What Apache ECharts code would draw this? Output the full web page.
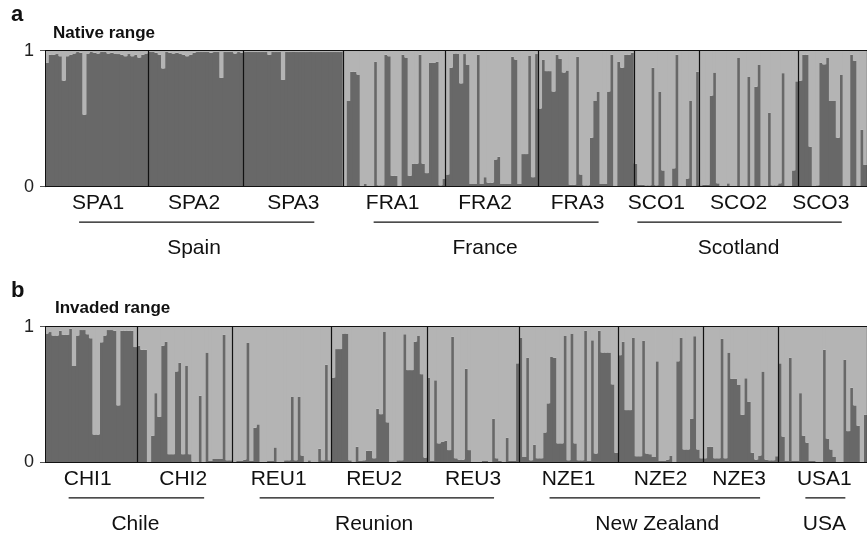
<!DOCTYPE html>
<html>
<head>
<meta charset="utf-8">
<script src="https://cdn.jsdelivr.net/npm/echarts/dist/echarts.min.js"></script>
<style>html,body{margin:0;padding:0;background:#fff}#c{width:867px;height:537px}</style>
</head>
<body>
<div id="c"></div>
<script>
// ---------------- data ----------------
const POPS_A = ['SPA1','SPA2','SPA3','FRA1','FRA2','FRA3','SCO1','SCO2','SCO3'];
const COUNTRIES_A = ['Spain','Spain','Spain','France','France','France','Scotland','Scotland','Scotland'];
const POPS_B = ['CHI1','CHI2','REU1','REU2','REU3','NZE1','NZE2','NZE3','USA1'];
const COUNTRIES_B = ['Chile','Chile','Reunion','Reunion','Reunion','New Zealand','New Zealand','New Zealand','USA'];

// membership in the dark cluster (light = 1 - dark)
const SPA1 = [0.91,0.97,0.97,0.975,0.96,0.78,0.96,0.97,0.98,0.99,0.985,0.53,0.98,0.99,0.985,0.98,0.99,0.99,0.98,0.985,0.98,0.975,0.97,0.96,0.975,0.96,0.97,0.95,0.97,0.98];
const SPA2 = [0.99,0.99,0.985,0.97,0.87,0.99,0.985,0.98,0.985,0.98,0.97,0.96,0.97,0.985,0.99,0.99,0.99,0.99,0.985,0.99,0.99,0.80,0.99,0.99,0.99,0.98,0.99,0.985];
const SPA3 = [0.99,0.995,0.99,0.99,0.99,0.99,0.99,0.97,0.99,0.99,0.99,0.785,0.99,0.99,0.995,0.99,0.99,0.99,0.99,0.995,0.99,0.99,0.99,0.99,0.99,0.99,0.99,0.99,0.99];
const FRA1 = [0.0,0.63,0.845,0.845,0.825,0.0,0.02,0.0,0.0,0.92,0.01,0.01,0.97,0.96,0.08,0.08,0.0,0.97,0.95,0.08,0.17,0.17,0.97,0.17,0.1,0.91,0.91,0.92,0.01,0.06];
const FRA2 = [0.09,0.875,0.98,0.98,0.76,0.975,0.895,0.02,0.02,0.97,0.02,0.07,0.03,0.03,0.2,0.22,0.02,0.02,0.02,0.955,0.935,0.02,0.24,0.24,0.965,0.07,0.975];
const FRA3 = [0.575,0.935,0.85,0.85,0.70,0.97,0.94,0.84,0.855,0.015,0.015,0.955,0.09,0.01,0.01,0.36,0.63,0.70,0.02,0.02,0.70,0.97,0.0,0.92,0.875,0.97,0.97,0.985];
const SCO1 = [0.17,0.015,0.015,0.01,0.01,0.875,0.01,0.70,0.12,0.0,0.0,0.135,0.97,0.0,0.0,0.06,0.63,0.0,0.845];
const SCO2 = [0.01,0.015,0.015,0.67,0.84,0.025,0.0,0.0,0.025,0.0,0.0,0.95,0.0,0.0,0.81,0.0,0.735,0.895,0.0,0.0,0.545,0.01,0.01,0.025,0.835,0.0,0.0,0.12,0.775];
const SCO3 = [0.78,0.97,0.97,0.295,0.0,0.01,0.91,0.90,0.95,0.63,0.63,0.36,0.825,0.0,0.0,0.97,0.925,0.0,0.42,0.16];

const CHI1 = [0.95,0.96,0.935,0.935,0.97,0.94,0.94,0.985,0.71,0.935,0.975,0.975,0.945,0.915,0.205,0.205,0.885,0.935,0.975,0.975,0.97,0.42,0.97,0.97,0.97,0.97,0.85];
const CHI2 = [0.86,0.83,0.83,0.0,0.195,0.51,0.335,0.86,0.89,0.06,0.06,0.67,0.735,0.06,0.71,0.06,0.005,0.0,0.49,0.0,0.81,0.01,0.025,0.025,0.025,0.94,0.015,0.015];
const REU1 = [0.0,0.01,0.01,0.02,0.88,0.01,0.255,0.28,0.0,0.0,0.01,0.01,0.11,0.0,0.0,0.015,0.015,0.485,0.015,0.485,0.05,0.0,0.015,0.0,0.0,0.10,0.015,0.72,0.015];
const REU2 = [0.625,0.835,0.835,0.95,0.95,0.015,0.0,0.115,0.01,0.015,0.085,0.085,0.03,0.395,0.355,0.965,0.295,0.0,0.0,0.015,0.015,0.945,0.68,0.68,0.89,0.935,0.65,0.035];
const REU3 = [0.625,0.01,0.605,0.14,0.15,0.16,0.09,0.925,0.03,0.02,0.02,0.69,0.09,0.0,0.0,0.0,0.01,0.01,0.0,0.32,0.03,0.01,0.0,0.18,0.01,0.01,0.73];
const NZE1 = [0.92,0.04,0.77,0.015,0.13,0.03,0.03,0.22,0.435,0.78,0.77,0.14,0.14,0.935,0.015,0.95,0.14,0.015,0.015,0.97,0.01,0.90,0.065,0.97,0.81,0.81,0.81,0.575,0.07];
const NZE2 = [0.79,0.89,0.385,0.385,0.92,0.045,0.045,0.895,0.065,0.06,0.04,0.745,0.01,0.01,0.02,0.05,0.0,0.745,0.92,0.095,0.095,0.32,0.93,0.095,0.03];
const NZE3 = [0.03,0.115,0.115,0.03,0.03,0.91,0.03,0.81,0.615,0.615,0.57,0.35,0.62,0.445,0.07,0.02,0.05,0.67,0.02,0.015,0.015,0.045];
const USA1 = [0.73,0.19,0.01,0.77,0.01,0.01,0.51,0.195,0.145,0.01,0.01,0.0,0.0,0.83,0.175,0.095,0.04,0.0,0.0,0.755,0.23,0.55,0.42,0.27,0.0,0.35];

const Y_TICKS = ['0','1'];

// ---------------- layout (not data) ----------------
const LABEL_SHIFT_A = [0,-1,0,-1,-2,-3,-3,-3,-4];
const LABEL_SHIFT_B = [-1,-1,-1,-2,0,0,0,-1,0];
const DARK = '#686868', LIGHT = '#b4b4b4', INK = '#111';
const FONT = 'Liberation Sans, Arial, sans-serif';

function buildPanel(pops, countries, values, shifts) {
  const cats = [], ctry = [], dark = [], light = [], starts = [], anchors = [];
  let idx = 0;
  pops.forEach((p, k) => {
    starts.push(idx);
    anchors.push(idx + Math.floor(values[k].length / 2) + shifts[k]);
    values[k].forEach((v, j) => {
      cats.push(p + '#' + j);
      ctry.push(countries[k] + '#' + idx);
      dark.push(v);
      light.push(+(1 - v).toFixed(4));
      idx++;
    });
  });
  const groups = [];
  countries.forEach((c, k) => {
    let g = groups.find(x => x.name === c);
    if (!g) { g = {name: c, pops: []}; groups.push(g); }
    g.pops.push(k);
  });
  groups.forEach(g => {
    g.anchor = Math.round(g.pops.reduce((s, k) => s + anchors[k], 0) / g.pops.length);
    g.first = anchors[g.pops[0]];
    g.last = anchors[g.pops[g.pops.length - 1]];
  });
  return {cats, ctry, dark, light, starts, anchors, groups};
}

const A = buildPanel(POPS_A, COUNTRIES_A, [SPA1,SPA2,SPA3,FRA1,FRA2,FRA3,SCO1,SCO2,SCO3], LABEL_SHIFT_A);
const B = buildPanel(POPS_B, COUNTRIES_B, [CHI1,CHI2,REU1,REU2,REU3,NZE1,NZE2,NZE3,USA1], LABEL_SHIFT_B);

function popAxis(P, gi) {
  const lines = new Set(P.starts.filter(s => s > 0));
  const labs = new Set(P.anchors);
  return {
    type: 'category', gridIndex: gi, position: 'bottom', data: P.cats, z: 5,
    boundaryGap: true,
    axisLine: {show: false}, axisTick: {show: false},
    axisLabel: {
      interval: (i) => labs.has(i), margin: 6, fontSize: 21, color: INK, fontFamily: FONT,
      formatter: v => v.split('#')[0]
    },
    splitLine: {show: true, interval: (i) => lines.has(i), lineStyle: {color: INK, width: 1.2}}
  };
}
function countryAxis(P, gi) {
  const labs = new Set(P.groups.map(g => g.anchor));
  return {
    type: 'category', gridIndex: gi, position: 'bottom', data: P.ctry, z: 5,
    axisLine: {show: false}, axisTick: {show: false}, splitLine: {show: false},
    axisLabel: {
      interval: (i) => labs.has(i), margin: 51, fontSize: 21, color: INK, fontFamily: FONT,
      formatter: v => v.split('#')[0]
    }
  };
}
function valAxis(gi) {
  return {
    type: 'value', gridIndex: gi, min: 0, max: 1, interval: 1, z: 5,
    axisLine: {show: true, lineStyle: {color: INK, width: 1}},
    axisTick: {show: true, length: 5, lineStyle: {color: '#555'}},
    axisLabel: {margin: 11, fontSize: 18, color: '#222', fontFamily: FONT,
      formatter: v => Y_TICKS[Math.round(v)]},
    splitLine: {show: true, lineStyle: {color: INK, width: 1}}
  };
}
function barSeries(P, ai, stack) {
  const common = {type: 'bar', stack: stack, xAxisIndex: ai * 2, yAxisIndex: ai,
    barWidth: '125%', animation: false, silent: true};
  return [
    Object.assign({}, common, {data: P.dark, itemStyle: {color: DARK}}),
    Object.assign({}, common, {data: P.light, itemStyle: {color: LIGHT}})
  ];
}

const chart = echarts.init(document.getElementById('c'), null, {renderer: 'canvas'});
const titleStyle = (size) => ({fontSize: size, fontWeight: 'bold', color: INK, fontFamily: FONT});
chart.setOption({
  backgroundColor: '#fff',
  animation: false,
  title: [
    {text: 'a', left: 11, top: 4, padding: 0, textStyle: titleStyle(22)},
    {text: 'Native range', left: 53, top: 25, padding: 0, textStyle: titleStyle(17)},
    {text: 'b', left: 11, top: 280, padding: 0, textStyle: titleStyle(22)},
    {text: 'Invaded range', left: 55, top: 300, padding: 0, textStyle: titleStyle(17)}
  ],
  grid: [
    {left: 45, right: 0, top: 50.7, height: 136},
    {left: 45, right: 0, top: 326.7, height: 135.6}
  ],
  xAxis: [popAxis(A, 0), countryAxis(A, 0), popAxis(B, 1), countryAxis(B, 1)],
  yAxis: [valAxis(0), valAxis(1)],
  series: [].concat(barSeries(A, 0, 'a'), barSeries(B, 1, 'b'))
});

// underlines for country groups, positioned through the axes
const elements = [];
[[A, 0], [B, 1]].forEach(([P, ai]) => {
  const y0 = chart.convertToPixel({yAxisIndex: ai}, 0) + 35.5;
  P.groups.forEach(g => {
    const x1 = chart.convertToPixel({xAxisIndex: ai * 2}, g.first) - 19;
    const x2 = chart.convertToPixel({xAxisIndex: ai * 2}, g.last) + 21;
    elements.push({type: 'line', shape: {x1: x1, y1: y0, x2: x2, y2: y0},
      style: {stroke: INK, lineWidth: 1.3}, silent: true});
  });
});
chart.setOption({graphic: {elements: elements}});
</script>
</body>
</html>
